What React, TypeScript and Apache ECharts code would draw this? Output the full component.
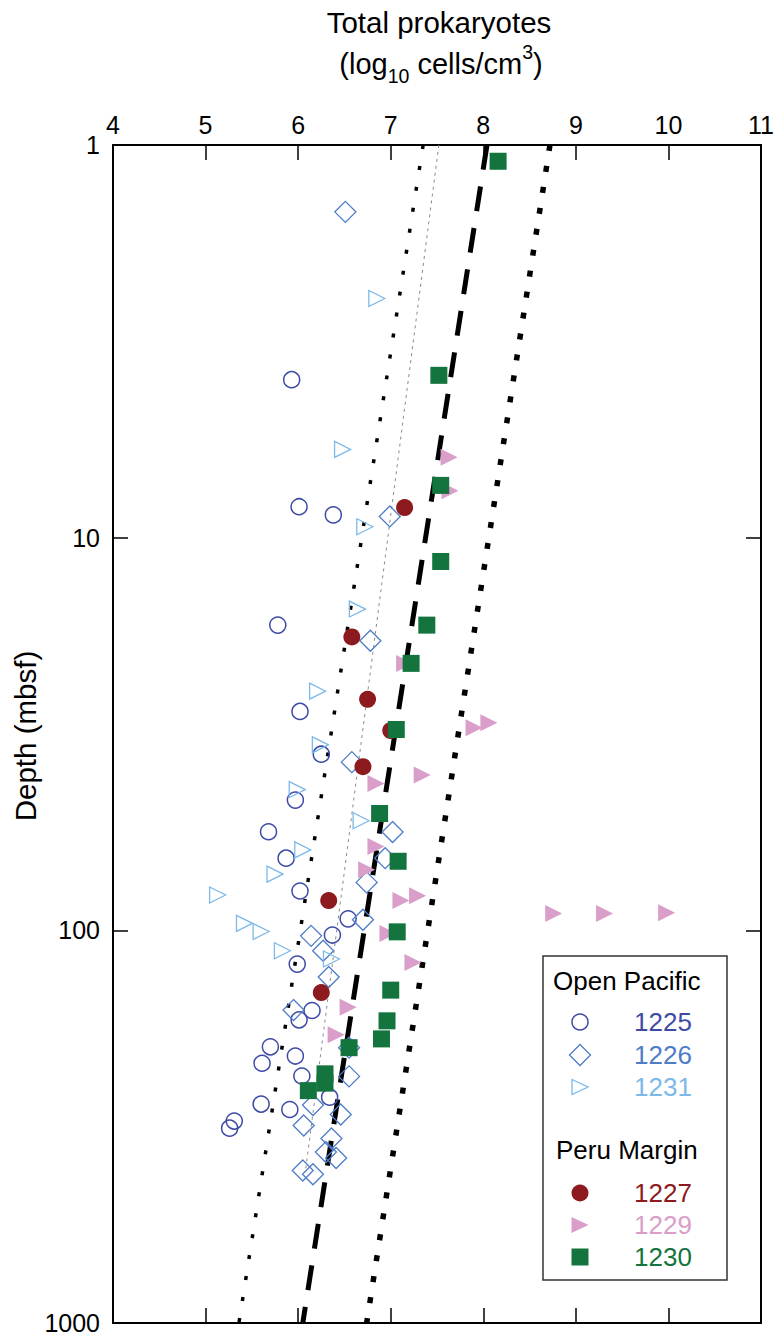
import React, { useEffect, useRef } from 'react';
import * as echarts from 'echarts';

// ---- Axis ticks ----
const xTickValues = [4, 5, 6, 7, 8, 9, 10, 11];
const yTickLabels = ['1', '10', '100', '1000'];

// ---- Open Pacific ----
const site1225X = [5.93, 6.01, 6.38, 5.78, 6.02, 6.25, 5.97, 5.68, 5.87, 6.02, 6.54, 6.37, 5.99, 6.15, 6.01, 5.70, 5.61, 5.97, 6.04, 6.34, 5.60, 5.91, 5.31, 5.26];
const site1225Depth = [3.96, 8.34, 8.75, 16.7, 27.7, 35.6, 46.6, 56.1, 65.5, 79.4, 93.5, 102.8, 121.9, 160, 169, 198, 218, 209, 235, 266, 277, 286, 306, 319];

const site1226X = [6.51, 6.99, 6.78, 6.58, 7.02, 6.94, 6.74, 6.70, 6.14, 6.27, 6.33, 5.95, 6.55, 6.55, 6.16, 6.46, 6.06, 6.36, 6.30, 6.41, 6.05, 6.16];
const site1226Depth = [1.48, 8.83, 18.3, 37.3, 56.2, 65.5, 75.5, 94.0, 103.3, 112.7, 131.5, 159.6, 199, 235.5, 278.6, 294.4, 314, 339, 367, 380, 409, 418];

const site1231X = [6.85, 6.48, 6.72, 6.64, 6.21, 6.24, 5.99, 6.68, 6.05, 5.75, 5.13, 5.42, 5.60, 5.83, 6.36];
const site1231Depth = [2.46, 5.96, 9.38, 15.2, 24.6, 33.7, 43.8, 52.6, 62.4, 71.9, 81.3, 96.0, 100.7, 112.7, 118.3];

// ---- Peru Margin ----
const site1227X = [7.15, 6.58, 6.75, 7.00, 6.70, 6.33, 6.25];
const site1227Depth = [8.38, 17.9, 25.8, 31.0, 38.3, 84, 144];

const site1229X = [7.63, 7.64, 7.15, 7.90, 8.06, 7.34, 6.84, 6.84, 6.74, 7.11, 7.29, 8.76, 9.31, 9.98, 6.97, 7.24, 6.54, 6.41];
const site1229Depth = [6.24, 7.59, 20.9, 30.5, 29.6, 40.2, 42.3, 61.2, 70.1, 84, 81.7, 90.6, 90.6, 90.2, 101.9, 120.8, 157, 184.5];

const site1230X = [8.16, 7.52, 7.54, 7.54, 7.39, 7.22, 7.06, 6.88, 7.08, 7.07, 7.00, 6.96, 6.90, 6.55, 6.29, 6.29, 6.11];
const site1230Depth = [1.10, 3.86, 7.36, 11.5, 16.7, 20.9, 30.8, 50.4, 66.7, 100.9, 142, 170, 189, 199, 232, 245, 256];

// ---- Regression lines (endpoints) ----
const fitDepth = [1, 1000];
const fitX = [8.04, 6.05];
const lowerLimitX = [7.35, 5.36];
const upperLimitX = [8.72, 6.74];
const openFitDepth = [1, 408];
const openFitX = [7.52, 6.08];

const C1225 = '#3e4ba6';
const C1226 = '#4e7cc8';
const C1231 = '#7cb9e9';
const C1227 = '#8c1a1e';
const C1229 = '#d99ec9';
const C1230 = '#13743d';

const FONT = '"Liberation Sans", Arial, Helvetica, sans-serif';

const zip = (xs: number[], ds: number[]) => xs.map((x, i) => [x, ds[i]]);

export default function App() {
  const ref = useRef<HTMLDivElement>(null);
  useEffect(() => {
    if (!ref.current) return;
    const chart = echarts.init(ref.current, undefined, { renderer: 'svg' });

    const axisLine = { show: true, lineStyle: { color: '#000', width: 2 } };
    const axisTick = { show: true, inside: true, length: 15, lineStyle: { color: '#000', width: 1.5 } };

    const lineSeries = (xs: number[], ds: number[], style: any) => ({
      type: 'line',
      data: zip(xs, ds),
      symbol: 'none',
      silent: true,
      z: 1,
      lineStyle: { color: '#000', cap: 'butt', opacity: 1, ...style },
    });

    const legendText = (text: string, x: number, y: number, color: string) => ({
      type: 'text', x, y, silent: true, z: 100,
      style: { text, fill: color, fontSize: 26, fontFamily: FONT, align: 'left', verticalAlign: 'middle' },
    });

    const option: any = {
      animation: false,
      backgroundColor: '#fff',
      textStyle: { fontFamily: FONT },
      grid: { left: 113, top: 145, width: 652, height: 1178, containLabel: false },
      xAxis: [
        {
          type: 'value', position: 'top', min: 4, max: 11, interval: 1,
          axisLine, axisTick, splitLine: { show: false },
          axisLabel: {
            show: true, margin: 8, fontSize: 25, color: '#000', fontFamily: FONT,
            formatter: (v: number) => (xTickValues.includes(Math.round(v)) ? String(Math.round(v)) : ''),
          },
        },
        {
          type: 'value', position: 'bottom', min: 4, max: 11, interval: 1,
          axisLine, axisTick, splitLine: { show: false }, axisLabel: { show: false },
        },
      ],
      yAxis: [
        {
          type: 'log', logBase: 10, min: 1, max: 1000, inverse: true, position: 'left',
          axisLine, axisTick, splitLine: { show: false }, minorTick: { show: false },
          axisLabel: {
            show: true, margin: 13, fontSize: 25, color: '#000', fontFamily: FONT,
            formatter: (v: number) => {
              const s = String(Math.round(v));
              return yTickLabels.includes(s) ? s : '';
            },
          },
        },
        {
          type: 'log', logBase: 10, min: 1, max: 1000, inverse: true, position: 'right',
          axisLine, axisTick, splitLine: { show: false }, axisLabel: { show: false },
        },
      ],
      series: [
        lineSeries(openFitX, openFitDepth, { color: '#8a8a8a', width: 1, type: [3, 4] }),
        lineSeries(lowerLimitX, fitDepth, { width: 3.5, type: [4, 17.2] }),
        lineSeries(upperLimitX, fitDepth, { width: 5.5, type: [6, 15.2] }),
        lineSeries(fitX, fitDepth, { width: 5, type: [25, 17] }),
        {
          type: 'scatter', name: '1225', data: zip(site1225X, site1225Depth), silent: true, z: 3,
          symbol: 'circle', symbolSize: 16,
          itemStyle: { color: 'rgba(255,255,255,0)', borderColor: C1225, borderWidth: 1.5, opacity: 1 },
        },
        {
          type: 'scatter', name: '1226', data: zip(site1226X, site1226Depth), silent: true, z: 3,
          symbol: 'diamond', symbolSize: 21,
          itemStyle: { color: 'rgba(255,255,255,0)', borderColor: C1226, borderWidth: 1.3, opacity: 1 },
        },
        {
          type: 'scatter', name: '1231', data: zip(site1231X, site1231Depth), silent: true, z: 3,
          symbol: 'triangle', symbolSize: 16, symbolRotate: -90,
          itemStyle: { color: 'rgba(255,255,255,0)', borderColor: C1231, borderWidth: 1.3, opacity: 1 },
        },
        {
          type: 'scatter', name: '1227', data: zip(site1227X, site1227Depth), silent: true, z: 3,
          symbol: 'circle', symbolSize: 17, itemStyle: { color: C1227, opacity: 1 },
        },
        {
          type: 'scatter', name: '1229', data: zip(site1229X, site1229Depth), silent: true, z: 3,
          symbol: 'triangle', symbolSize: 17, symbolRotate: -90, itemStyle: { color: C1229, opacity: 1 },
        },
        {
          type: 'scatter', name: '1230', data: zip(site1230X, site1230Depth), silent: true, z: 3,
          symbol: 'rect', symbolSize: 17, itemStyle: { color: C1230, opacity: 1 },
        },
      ],
      graphic: [
        {
          type: 'text', x: 439, y: 22, silent: true,
          style: { text: 'Total prokaryotes', fill: '#000', fontSize: 29.5, fontFamily: FONT, align: 'center', verticalAlign: 'middle' },
        },
        {
          type: 'text', x: 441, y: 42, silent: true,
          style: {
            text: '{a|(log}{sub|10}{a| cells/cm}{sup|3}{a|)}',
            align: 'center', verticalAlign: 'top', fill: '#000',
            rich: {
              a: { fontSize: 29, fontFamily: FONT, lineHeight: 44, verticalAlign: 'middle', fill: '#000' },
              sub: { fontSize: 19.5, fontFamily: FONT, lineHeight: 19, verticalAlign: 'bottom', fill: '#000' },
              sup: { fontSize: 19.5, fontFamily: FONT, lineHeight: 32, verticalAlign: 'top', fill: '#000' },
            },
          },
        },
        {
          type: 'text', x: 25, y: 736, rotation: Math.PI / 2, silent: true,
          style: { text: 'Depth (mbsf)', fill: '#000', fontSize: 29.5, fontFamily: FONT, align: 'center', verticalAlign: 'middle' },
        },
        // Legend box
        {
          type: 'rect', silent: true, z: 99,
          shape: { x: 543, y: 956, width: 184, height: 324 },
          style: { fill: '#fff', stroke: '#333', lineWidth: 1.5 },
        },
        legendText('Open Pacific', 553, 981, '#000'),
        {
          type: 'circle', silent: true, z: 100, shape: { cx: 580, cy: 1022, r: 8 },
          style: { fill: 'none', stroke: C1225, lineWidth: 1.5 },
        },
        legendText('1225', 634, 1022, C1225),
        {
          type: 'polygon', silent: true, z: 100,
          shape: { points: [[580, 1044.5], [590.5, 1055], [580, 1065.5], [569.5, 1055]] },
          style: { fill: 'none', stroke: C1226, lineWidth: 1.3 },
        },
        legendText('1226', 634, 1055, C1226),
        {
          type: 'polygon', silent: true, z: 100,
          shape: { points: [[572, 1079.5], [588, 1087], [572, 1094.5]] },
          style: { fill: 'none', stroke: C1231, lineWidth: 1.3 },
        },
        legendText('1231', 634, 1087, C1231),
        legendText('Peru Margin', 556, 1150, '#000'),
        {
          type: 'circle', silent: true, z: 100, shape: { cx: 580, cy: 1193, r: 8.5 },
          style: { fill: C1227 },
        },
        legendText('1227', 634, 1193, C1227),
        {
          type: 'polygon', silent: true, z: 100,
          shape: { points: [[571.5, 1217], [588.5, 1225], [571.5, 1233]] },
          style: { fill: C1229 },
        },
        legendText('1229', 634, 1225, C1229),
        {
          type: 'rect', silent: true, z: 100, shape: { x: 571.5, y: 1248.5, width: 17, height: 17 },
          style: { fill: C1230 },
        },
        legendText('1230', 634, 1257, C1230),
      ],
    };

    chart.setOption(option);
    return () => chart.dispose();
  }, []);

  return (
    <div
      ref={ref}
      style={{ position: 'fixed', left: 0, top: 0, width: 777, height: 1336, background: '#fff' }}
    />
  );
}
